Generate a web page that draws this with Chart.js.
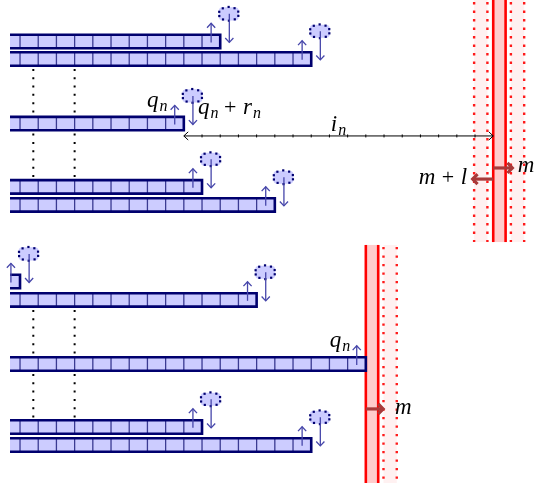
<!DOCTYPE html>
<html>
<head>
<meta charset="utf-8">
<style>
  html, body { margin: 0; padding: 0; background: #fff; }
  canvas { display: block; }
</style>
</head>
<body>
<canvas id="queueChart" width="536" height="483"></canvas>
<script src="https://cdn.jsdelivr.net/npm/chart.js@4"></script>
<script>
const chartElem = document.getElementById('queueChart')

// one unit = one queue cell
const topCells = [11, 16, 9, 10, 14]
const topRows = [2.28, 3.24, 6.79, 10.27, 11.26]
const topClouds = [true, true, true, true, true]

const bottomCells = [0, 13, 19, 10, 16]
const bottomRows = [15.47, 16.48, 20.0, 23.46, 24.45]
const bottomClouds = [true, true, false, true, true]

const guideCols = [0.73, 3]

const intervalFrom = 9
const intervalTo = 26
const intervalRow = 7.47

const wallCols = [26, 19]
const wallFrom = [0, 13.46]
const wallTo = [13.3, 26.54]
const wallLeftBand = [true, false]

const pushFrom = [26, 26, 19]
const pushTo = [27.05, 24.87, 19.95]
const pushRow = [9.23, 9.84, 22.47]

const labelTexts = ['q_n', 'q_n + r_n', 'i_n', 'm + l', 'm', 'q_n', 'm']
const labelX = [8.1, 9.78, 17.5, 24.62, 27.35, 18.15, 20.6]
const labelY = [5.88, 6.26, 7.2, 10.11, 9.45, 19.07, 22.75]
const labelAlign = ['right', 'left', 'center', 'right', 'left', 'right', 'left']

const navy = '#00006e'
const cellLine = '#3a3a92'
const cellFill = '#ccccff'
const arrowBlue = '#4646aa'

// dotted guides between the queues
function guideSets(rows) {
  const sets = []
  for (let k = 1; k < 3; k++) {
    guideCols.forEach(c => {
      sets.push({
        data: [{x: c, y: rows[k] + 0.55}, {x: c, y: rows[k + 1] - 0.5}],
        showLine: true,
        borderColor: '#000',
        borderWidth: 2,
        borderDash: [2, 6.3],
        borderCapStyle: 'butt',
        pointRadius: 0,
      })
    })
  }
  return sets
}

function arrowHead(ctx, x, y, ang, len, spread) {
  ctx.beginPath()
  ctx.moveTo(x - len * Math.cos(ang - spread), y - len * Math.sin(ang - spread))
  ctx.lineTo(x, y)
  ctx.lineTo(x - len * Math.cos(ang + spread), y - len * Math.sin(ang + spread))
  ctx.stroke()
}

function drawMath(ctx, text, x, y, align) {
  const runs = []
  for (let i = 0; i < text.length; i++) {
    const ch = text[i]
    if (ch === ' ') { runs.push({gap: 5.5}); continue }
    if (ch === '_') { runs.push({t: text[i + 1], sub: true}); i++; continue }
    runs.push({t: ch, up: ch === '+'})
  }
  const fontOf = r => r.sub ? 'italic 16px "Liberation Serif"' : (r.up ? '22px "Liberation Serif"' : 'italic 23px "Liberation Serif"')
  let w = 0
  runs.forEach(r => {
    if (r.gap) { w += r.gap; return }
    ctx.font = fontOf(r)
    r.w = ctx.measureText(r.t).width + (r.sub ? 0 : 1)
    w += r.w
  })
  let cx = align === 'right' ? x - w : (align === 'center' ? x - w / 2 : x)
  ctx.fillStyle = '#000'
  ctx.textBaseline = 'alphabetic'
  ctx.textAlign = 'left'
  runs.forEach(r => {
    if (r.gap) { cx += r.gap; return }
    ctx.font = fontOf(r)
    ctx.fillText(r.t, cx, y + (r.sub ? 4 : 0))
    cx += r.w
  })
}

const diagramPlugin = {
  id: 'queueDiagram',
  beforeDatasetsDraw(chart) {
    const ctx = chart.ctx
    const px = v => chart.scales.x.getPixelForValue(v)
    const py = v => chart.scales.y.getPixelForValue(v)
    ctx.save()
    // walls
    wallCols.forEach((c, i) => {
      const y0 = py(wallFrom[i]), y1 = py(wallTo[i])
      const bands = [[c + 0.97, c + 1.7]]
      if (wallLeftBand[i]) bands.push([c - 1.05, c - 0.32])
      bands.forEach(b => {
        ctx.fillStyle = '#fff1f1'
        ctx.fillRect(px(b[0]), y0, px(b[1]) - px(b[0]), y1 - y0)
        ctx.strokeStyle = '#ff1a1a'
        ctx.lineWidth = 2.4
        ctx.setLineDash([2.4, 6.1])
        b.forEach(xv => {
          ctx.beginPath()
          ctx.moveTo(px(xv), y0 + 2)
          ctx.lineTo(px(xv), y1)
          ctx.stroke()
        })
      })
      ctx.setLineDash([])
      ctx.fillStyle = '#ffcccc'
      ctx.fillRect(px(c), y0, px(c + 0.68) - px(c), y1 - y0)
      ctx.strokeStyle = '#ff0000'
      ctx.lineWidth = 2.6
      ;[c, c + 0.68].forEach(xv => {
        ctx.beginPath()
        ctx.moveTo(px(xv), y0)
        ctx.lineTo(px(xv), y1)
        ctx.stroke()
      })
    })
    ctx.restore()
  },
  afterDatasetsDraw(chart) {
    const ctx = chart.ctx
    const px = v => chart.scales.x.getPixelForValue(v)
    const py = v => chart.scales.y.getPixelForValue(v)
    const unit = px(1) - px(0)
    ctx.save()

    function drawQueue(cells, row, cloud) {
      const x0 = px(-0.55), x1 = px(cells)
      const yt = py(row - 0.37), yb = py(row + 0.37)
      ctx.fillStyle = cellFill
      ctx.fillRect(x0, yt, x1 - x0, yb - yt)
      ctx.strokeStyle = cellLine
      ctx.lineWidth = 1.3
      for (let i = 0; i < cells; i++) {
        ctx.beginPath()
        ctx.moveTo(px(i), yt)
        ctx.lineTo(px(i), yb)
        ctx.stroke()
      }
      ctx.strokeStyle = navy
      ctx.lineWidth = 2.6
      ctx.beginPath()
      ctx.moveTo(x0, yt)
      ctx.lineTo(x1, yt)
      ctx.lineTo(x1, yb)
      ctx.lineTo(x0, yb)
      ctx.stroke()

      // arrival arrow
      ctx.strokeStyle = arrowBlue
      ctx.lineWidth = 1.3
      const ax = px(cells - 0.5)
      ctx.beginPath()
      ctx.moveTo(ax, py(row + 0.05))
      ctx.lineTo(ax, py(row - 1.0))
      ctx.stroke()
      arrowHead(ctx, ax, py(row - 1.0), -Math.PI / 2, 6, 0.75)

      if (!cloud) return
      const cx = px(cells + 0.47), cy = py(row - 1.52)
      const rx = 0.55 * unit, ry = 0.36 * unit
      ctx.fillStyle = cellFill
      ctx.beginPath()
      ctx.roundRect(cx - rx, cy - ry, 2 * rx, 2 * ry, 4)
      ctx.fill()
      ctx.fillStyle = '#000070'
      for (let k = 0; k < 10; k++) {
        const a = k * Math.PI / 5 + 0.3
        const dx = Math.cos(a) * rx * 1.0, dy = Math.sin(a) * ry * 1.05
        ctx.fillRect(cx + dx - 1.1, cy + dy - 1.1, 2.2, 2.2)
      }
      ctx.strokeStyle = arrowBlue
      ctx.lineWidth = 1.3
      const dxp = px(cells + 0.5)
      ctx.beginPath()
      ctx.moveTo(dxp, cy)
      ctx.lineTo(dxp, py(row + 0.05))
      ctx.stroke()
      arrowHead(ctx, dxp, py(row + 0.05), Math.PI / 2, 6, 0.75)
    }

    topCells.forEach((c, i) => drawQueue(c, topRows[i], topClouds[i]))
    bottomCells.forEach((c, i) => drawQueue(c, bottomRows[i], bottomClouds[i]))

    // interval i_n
    ctx.strokeStyle = '#000'
    ctx.lineWidth = 1
    const iy = py(intervalRow)
    ctx.beginPath()
    ctx.moveTo(px(intervalFrom), iy)
    ctx.lineTo(px(intervalTo), iy)
    ctx.stroke()
    for (let t = intervalFrom + 1; t < intervalTo; t++) {
      ctx.beginPath()
      ctx.moveTo(px(t), iy - 1.5)
      ctx.lineTo(px(t), iy + 1.5)
      ctx.stroke()
    }
    arrowHead(ctx, px(intervalFrom), iy, Math.PI, 6, 0.75)
    arrowHead(ctx, px(intervalTo), iy, 0, 6, 0.75)

    // wall pushes
    ctx.strokeStyle = '#a83a3a'
    ctx.lineWidth = 3.2
    pushFrom.forEach((f, i) => {
      const y = py(pushRow[i])
      const dir = pushTo[i] > f ? 0 : Math.PI
      ctx.beginPath()
      ctx.moveTo(px(f), y)
      ctx.lineTo(px(pushTo[i]) - Math.cos(dir) * 2, y)
      ctx.stroke()
      arrowHead(ctx, px(pushTo[i]), y, dir, 7, 0.8)
    })

    labelTexts.forEach((t, i) => drawMath(ctx, t, px(labelX[i]), py(labelY[i]), labelAlign[i]))
    ctx.restore()
  }
}

const chart = new Chart(chartElem, {
  type: 'scatter',
  data: {
    datasets: [...guideSets(topRows), ...guideSets(bottomRows)],
  },
  options: {
    responsive: false,
    animation: false,
    layout: { padding: 0 },
    plugins: {
      legend: { display: false },
      tooltip: { enabled: false },
    },
    scales: {
      x: { type: 'linear', display: false, min: -1.1, max: 28.35 },
      y: { type: 'linear', display: false, reverse: true, min: 0, max: 26.54 },
    },
  },
  plugins: [diagramPlugin],
})
</script>
</body>
</html>
